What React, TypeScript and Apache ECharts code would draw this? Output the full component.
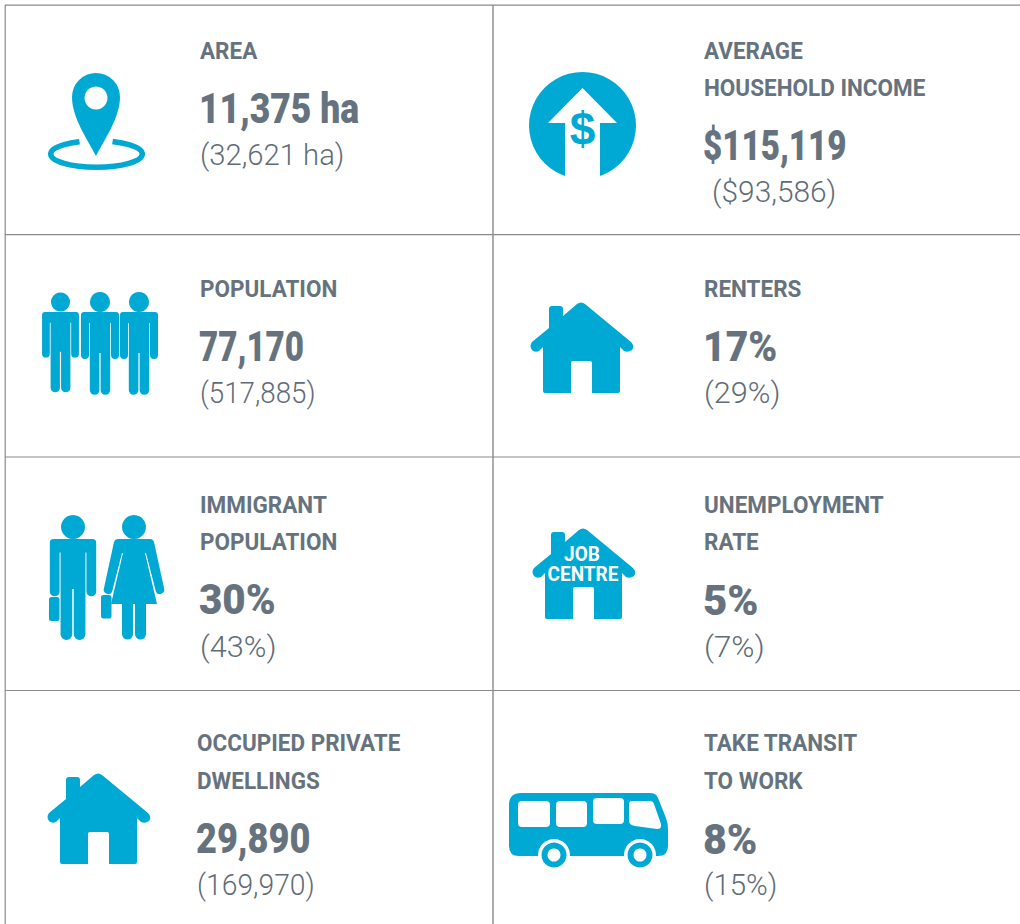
import React, { useEffect, useRef } from "react";
import * as echarts from "echarts";

const metricLabels = [
  ["AREA"],
  ["POPULATION"],
  ["IMMIGRANT", "POPULATION"],
  ["OCCUPIED PRIVATE", "DWELLINGS"],
  ["AVERAGE", "HOUSEHOLD INCOME"],
  ["RENTERS"],
  ["UNEMPLOYMENT", "RATE"],
  ["TAKE TRANSIT", "TO WORK"],
];
const metricValues = ["11,375 ha", "77,170", "30%", "29,890", "$115,119", "17%", "5%", "8%"];
const comparisonValues = ["(32,621 ha)", "(517,885)", "(43%)", "(169,970)", "($93,586)", "(29%)", "(7%)", "(15%)"];

const labelLeft = [200, 200, 200, 197, 704, 704, 704, 704];
const valueLeft = [199, 199, 199, 196, 703, 703, 703, 703];
const compLeft = [200, 200, 200, 197, 712, 704, 704, 704];
const labelY = [[50.5], [288.5], [505, 541.5], [743, 781], [50.5, 87.5], [288.5], [505, 541.5], [743, 781]];
const valueY = [108, 347, 600, 839, 146, 347, 600, 839];
const compY = [155, 393, 647, 885, 192, 393, 647, 885];
const valueFit = [0.845, 0.79, 0.96, 0.86, 0.79, 0.93, 1.0, 0.98];
const compFit = [1.008, 0.956, 1.057, 0.975, 1.03, 1.057, 1.08, 1.015];

const BLUE = "#00A8D4";
const INK = "#66737E";
const SUB = "#5F6C77";
const RULE = "#8A8A8A";
const FONT = '"Roboto", sans-serif';

echarts.graphic.registerShape("house", echarts.graphic.extendPath(
  "M47 2 Q51 -1 55 2 L101 40 Q105 44 102 48 Q98 51 94 49 L90 45 L90 89 Q90 91 88 91 L62 91 L62 61 Q62 59 60 59 L43 59 Q41 59 41 61 L41 91 L15 91 Q13 91 13 89 L13 45 L9 49 Q5 51 2 48 Q-1 44 2 40 L19 26 L19 7 Q19 4 22 4 L30 4 Q33 4 33 7 L33 14 Z", {}) as any);
echarts.graphic.registerShape("person", echarts.graphic.extendPath(
  "M-16 0 L16 0 Q19 0 19 3 L19 43 A4 4 0 0 1 11 43 L11 11 L10.2 11 L10.2 78 A4.8 4.8 0 0 1 0.6 78 L0.6 41 L-0.6 41 L-0.6 78 A4.8 4.8 0 0 1 -10.2 78 L-10.2 11 L-11 11 L-11 43 A4 4 0 0 1 -19 43 L-19 3 Q-19 0 -16 0 Z", {}) as any);
echarts.graphic.registerShape("woman", echarts.graphic.extendPath(
  "M118 539 L150 539 Q153 539 154 542 L164 588 A4.5 4.5 0 0 1 156 592 L146 553 L145 553 L157 604 L146 604 L146 634 A5.5 5.5 0 0 1 135 634 L135 604 L133 604 L133 634 A5.5 5.5 0 0 1 122 634 L122 604 L111 604 L123 553 L122 553 L112 592 A4.5 4.5 0 0 1 104 588 L114 542 Q115 539 118 539 Z", {}) as any);
echarts.graphic.registerShape("pin", echarts.graphic.extendPath(
  "M96 156 C88 140 72 118 72 97 A24 24 0 0 1 120 97 C120 118 104 140 96 156 Z", {}) as any);
echarts.graphic.registerShape("bus", echarts.graphic.extendPath(
  "M521 793 L650 793 Q656 793 658 798 L666 818 Q668 823 668 830 L668 846 Q668 856 658 856 L519 856 Q509 856 509 846 L509 805 Q509 793 521 793 Z", {}) as any);
echarts.graphic.registerShape("windshield", echarts.graphic.extendPath(
  "M632 801 L650 801 Q653 801 654 804 L661 824 Q662 829 657 829 L635 826 Q629 825 629 821 L629 804 Q629 801 632 801 Z", {}) as any);

const line = (x1: number, y1: number, x2: number, y2: number, w = 1.2) => ({
  type: "line", shape: { x1, y1, x2, y2 }, style: { stroke: RULE, lineWidth: w },
});
const blue = { fill: BLUE };
const white = { fill: "#fff" };
const personAt = (x: number, y: number, s: number, headY: number, headR: number) => [
  { type: "circle", shape: { cx: x, cy: headY, r: headR }, style: blue },
  { type: "person", x, y, scaleX: s, scaleY: s, style: blue },
];
const win = (x: number, y: number, width: number, height: number) => ({
  type: "rect", shape: { x, y, width, height, r: 4 }, style: white,
});
const wheel = (cx: number) => [
  { type: "circle", shape: { cx, cy: 855, r: 16 }, style: white },
  { type: "circle", shape: { cx, cy: 855, r: 12.5 }, style: blue },
  { type: "circle", shape: { cx, cy: 855, r: 6.5 }, style: white },
];

function texts() {
  const out: any[] = [];
  metricLabels.forEach((lines, i) => {
    lines.forEach((t, j) => out.push({
      type: "text", x: labelLeft[i], y: labelY[i][j], scaleX: 0.937,
      style: { text: t, font: `bold 24px ${FONT}`, fill: INK, verticalAlign: "middle", align: "left" },
    }));
    out.push({
      type: "text", x: valueLeft[i], y: valueY[i], scaleX: valueFit[i],
      style: { text: metricValues[i], font: `900 42px ${FONT}`, fill: INK, verticalAlign: "middle", align: "left" },
    });
    out.push({
      type: "text", x: compLeft[i], y: compY[i], scaleX: compFit[i],
      style: { text: comparisonValues[i], font: `300 29px ${FONT}`, fill: SUB, verticalAlign: "middle", align: "left" },
    });
  });
  return out;
}

const icons: any[] = [
  // location pin
  { type: "ellipse", shape: { cx: 96.5, cy: 154, rx: 45.8, ry: 13.3 }, style: { fill: "none", stroke: BLUE, lineWidth: 5.5 } },
  { type: "polygon", shape: { points: [[78, 132], [114, 132], [112, 145], [96, 158], [80, 145]] }, style: white },
  { type: "pin", style: blue },
  { type: "circle", shape: { cx: 96, cy: 98, r: 11.5 }, style: white },
  // income
  { type: "circle", shape: { cx: 582.5, cy: 125.5, r: 53.5 }, style: blue },
  { type: "polygon", shape: { points: [[582.5, 88], [617, 123], [600, 123], [600, 182], [565, 182], [565, 123], [548, 123]] }, style: white },
  { type: "text", x: 582.5, y: 129, style: { text: "$", font: `bold 46px "Liberation Sans", sans-serif`, fill: BLUE, align: "center", verticalAlign: "middle" } },
  // population
  ...personAt(60.5, 312, 0.97, 302, 9.5),
  ...personAt(100, 312, 1.0, 302, 10),
  ...personAt(139, 312, 1.0, 302, 10),
  // houses
  { type: "house", x: 530, y: 302, style: blue },
  { type: "house", x: 532, y: 528, style: blue },
  { type: "house", x: 47, y: 773, style: blue },
  { type: "text", x: 582, y: 554.5, scaleX: 0.95, style: { text: "JOB", font: `bold 20px ${FONT}`, fill: "#fff", align: "center", verticalAlign: "middle" } },
  { type: "text", x: 583, y: 574.5, scaleX: 0.95, style: { text: "CENTRE", font: `bold 20px ${FONT}`, fill: "#fff", align: "center", verticalAlign: "middle" } },
  // immigrant couple
  ...personAt(73, 539, 1.22, 527, 12),
  { type: "rect", shape: { x: 49, y: 597, width: 10.5, height: 24, r: 2.5 }, style: blue },
  { type: "circle", shape: { cx: 134, cy: 527, r: 12 }, style: blue },
  { type: "woman", style: blue },
  { type: "rect", shape: { x: 101, y: 595, width: 10.5, height: 23.5, r: 2.5 }, style: blue },
  // bus
  { type: "bus", style: blue },
  win(518, 801, 32, 26),
  win(556, 801, 31, 26),
  win(593, 798, 31, 26),
  { type: "windshield", style: white },
  ...wheel(554),
  ...wheel(640),
];

export default function App() {
  const ref = useRef<HTMLDivElement>(null);
  useEffect(() => {
    const chart = echarts.init(ref.current!, undefined, { renderer: "svg" });
    chart.setOption({
      animation: false,
      backgroundColor: "#fff",
      graphic: {
        elements: [
          line(5, 5.2, 1020, 5.2),
          line(5, 234.7, 1020, 234.7),
          line(5, 457, 1020, 457),
          line(5, 690.5, 1020, 690.5),
          line(5.2, 5, 5.2, 924),
          line(493, 5, 493, 924, 1.4),
          ...icons,
          ...texts(),
        ],
      },
    });
    return () => chart.dispose();
  }, []);
  return <div ref={ref} style={{ position: "absolute", left: 0, top: 0, width: 1020, height: 924 }} />;
}
